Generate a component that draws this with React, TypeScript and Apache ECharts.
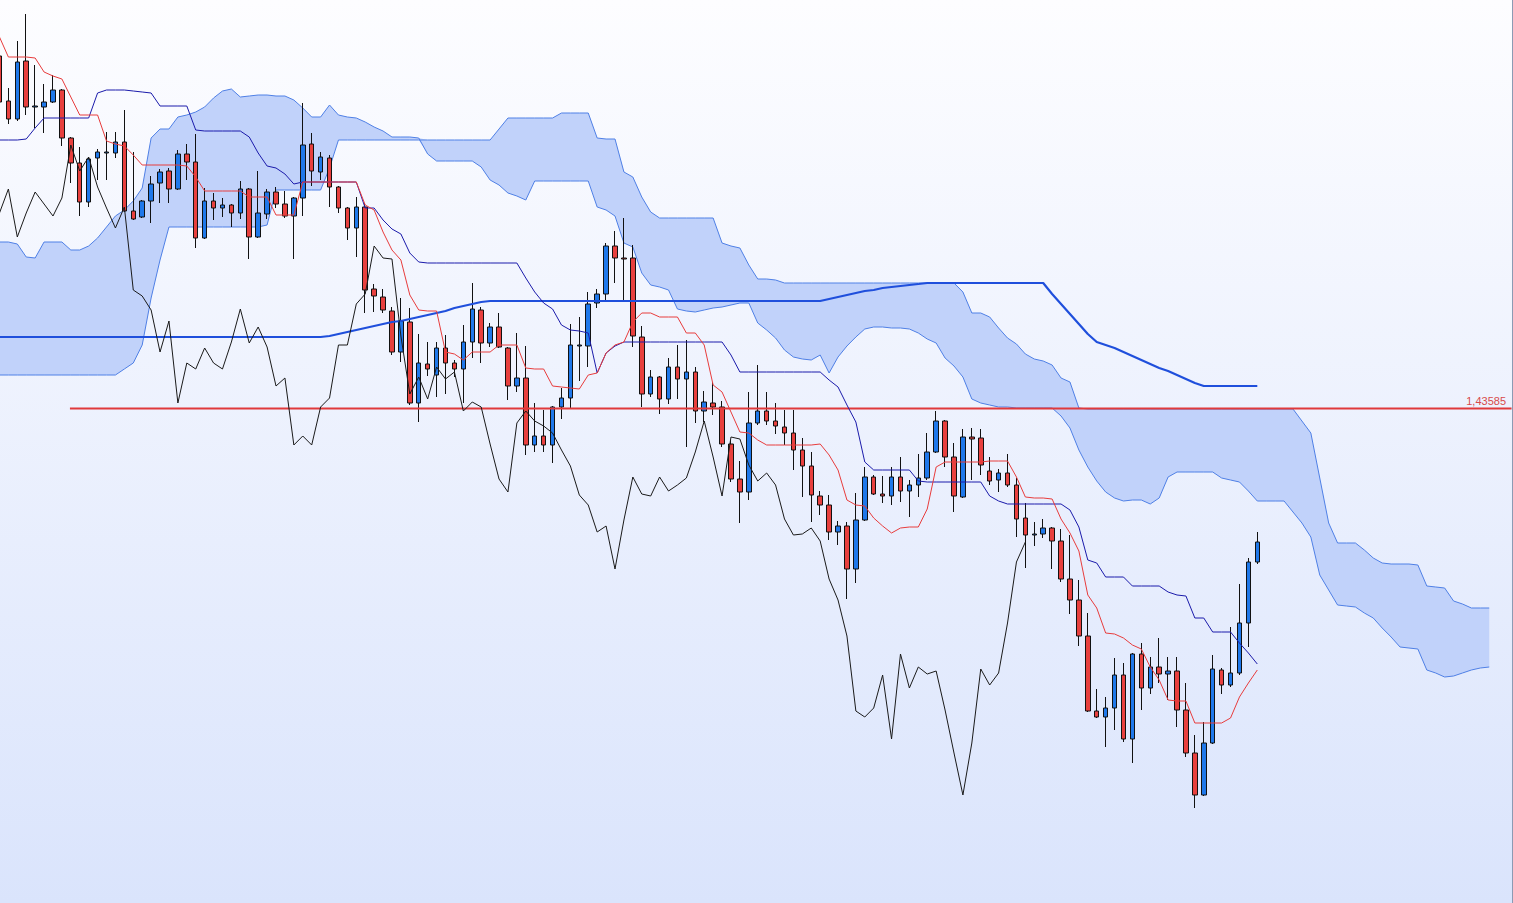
import { useEffect, useRef } from 'react'
import * as echarts from 'echarts'

// daily bars, oldest first
const opens = [
  1.4711, 1.4666, 1.4648, 1.4706, 1.466, 1.466, 1.4665, 1.4677, 1.4629, 1.4604,
  1.4565, 1.4609, 1.4614, 1.4614, 1.4625, 1.4556, 1.455, 1.4566, 1.4584, 1.4596,
  1.4578, 1.4613, 1.4605, 1.4529, 1.4566, 1.4559, 1.4562, 1.4554, 1.4578, 1.453,
  1.4553, 1.4575, 1.4563, 1.4551, 1.4569, 1.4623, 1.4595, 1.4609, 1.458, 1.4559,
  1.4539, 1.456, 1.4478, 1.447, 1.4456, 1.4415, 1.4445, 1.4364, 1.4403, 1.4392,
  1.4419, 1.4404, 1.4398, 1.4425, 1.4457, 1.4424, 1.444, 1.4419, 1.4381, 1.4389,
  1.4322, 1.4331, 1.4322, 1.436, 1.4369, 1.4421, 1.4421, 1.4464, 1.4473, 1.4521,
  1.4509, 1.4509, 1.443, 1.4373, 1.439, 1.4368, 1.44, 1.4388, 1.4395, 1.4356,
  1.4364, 1.436, 1.4323, 1.4288, 1.4275, 1.4344, 1.4356, 1.4346, 1.434, 1.4334,
  1.4317, 1.4301, 1.4271, 1.4262, 1.4235, 1.4241, 1.4198, 1.4247, 1.429, 1.4273,
  1.4271, 1.429, 1.4276, 1.4282, 1.4289, 1.4315, 1.4346, 1.431, 1.427, 1.433,
  1.4329, 1.4296, 1.4287, 1.4294, 1.4282, 1.4249, 1.4232, 1.4233, 1.4239, 1.4226,
  1.4188, 1.4167, 1.4131, 1.4056, 1.405, 1.4059, 1.4092, 1.4028, 1.4113, 1.4079,
  1.41, 1.4093, 1.4096, 1.4057, 1.4014, 1.3972, 1.4024, 1.4097, 1.4082, 1.4094,
  1.4144, 1.4205,
]

const closes = [
  1.4665, 1.4648, 1.4705, 1.466, 1.4661, 1.4665, 1.4677, 1.4629, 1.4604, 1.4565,
  1.4608, 1.4615, 1.4615, 1.4625, 1.4556, 1.4548, 1.4566, 1.4583, 1.4595, 1.4578,
  1.4613, 1.4605, 1.4529, 1.4566, 1.4559, 1.4562, 1.4554, 1.4578, 1.453, 1.4554,
  1.4575, 1.4563, 1.4551, 1.4569, 1.4622, 1.4596, 1.461, 1.458, 1.4559, 1.4539,
  1.456, 1.4477, 1.4471, 1.4457, 1.4415, 1.4446, 1.4364, 1.4404, 1.4398, 1.4419,
  1.4404, 1.4398, 1.4425, 1.4458, 1.4424, 1.444, 1.442, 1.4381, 1.4389, 1.4322,
  1.4331, 1.4322, 1.436, 1.4369, 1.4422, 1.4422, 1.4463, 1.4473, 1.4521, 1.4509,
  1.4508, 1.4431, 1.4373, 1.439, 1.4368, 1.44, 1.4388, 1.4395, 1.4356, 1.4365,
  1.436, 1.4323, 1.4288, 1.4275, 1.4344, 1.4356, 1.4346, 1.4341, 1.4334, 1.4317,
  1.4301, 1.4272, 1.4262, 1.4235, 1.4241, 1.4198, 1.4247, 1.429, 1.4273, 1.4271,
  1.429, 1.4276, 1.4282, 1.4289, 1.4315, 1.4346, 1.431, 1.4271, 1.433, 1.4328,
  1.4302, 1.4286, 1.4294, 1.4282, 1.4248, 1.4232, 1.4233, 1.4239, 1.4226, 1.4188,
  1.4167, 1.4131, 1.4056, 1.405, 1.4059, 1.4092, 1.4028, 1.4113, 1.4079, 1.41,
  1.4093, 1.4096, 1.4057, 1.4014, 1.3972, 1.4024, 1.4098, 1.4082, 1.4094, 1.4144,
  1.4205, 1.4225,
]

const highs = [
  1.4717, 1.4679, 1.4726, 1.4753, 1.4702, 1.4683, 1.4692, 1.4678, 1.463, 1.462,
  1.461, 1.4618, 1.4635, 1.4635, 1.4657, 1.4615, 1.4567, 1.4591, 1.4598, 1.4599,
  1.4617, 1.4623, 1.4633, 1.4579, 1.4574, 1.4569, 1.4563, 1.4586, 1.4579, 1.4596,
  1.4578, 1.458, 1.4576, 1.457, 1.4664, 1.4634, 1.4615, 1.4612, 1.4581, 1.456,
  1.457, 1.4564, 1.4483, 1.4478, 1.446, 1.4469, 1.4459, 1.4433, 1.4425, 1.4425,
  1.4432, 1.4407, 1.4442, 1.4484, 1.446, 1.4444, 1.4454, 1.442, 1.4434, 1.4421,
  1.4364, 1.4357, 1.4361, 1.4379, 1.4443, 1.445, 1.4475, 1.4478, 1.4524, 1.4536,
  1.4549, 1.4522, 1.4441, 1.4397, 1.4391, 1.4409, 1.4422, 1.4427, 1.44, 1.4376,
  1.4385, 1.4366, 1.4327, 1.4306, 1.4375, 1.4402, 1.4375, 1.4364, 1.4357, 1.4357,
  1.4329, 1.4315, 1.4276, 1.4272, 1.4246, 1.4245, 1.4274, 1.43, 1.4292, 1.4291,
  1.43, 1.431, 1.4287, 1.4313, 1.4334, 1.4356, 1.4347, 1.4324, 1.4338, 1.4339,
  1.4338, 1.431, 1.4298, 1.4313, 1.4289, 1.4264, 1.4245, 1.4248, 1.424, 1.4238,
  1.4232, 1.4187, 1.4154, 1.4078, 1.407, 1.4109, 1.4104, 1.4114, 1.4124, 1.411,
  1.4129, 1.411, 1.411, 1.4084, 1.4032, 1.4045, 1.4112, 1.4099, 1.414, 1.4183,
  1.4209, 1.4235,
]

const lows = [
  1.4662, 1.4643, 1.4646, 1.4652, 1.4639, 1.4634, 1.4664, 1.4621, 1.4584, 1.4551,
  1.456, 1.4587, 1.4587, 1.4609, 1.4555, 1.4547, 1.4549, 1.4544, 1.4564, 1.4564,
  1.4577, 1.4587, 1.4519, 1.4528, 1.4547, 1.455, 1.454, 1.4548, 1.4508, 1.4529,
  1.4548, 1.4559, 1.4549, 1.4508, 1.4551, 1.4581, 1.4587, 1.456, 1.4554, 1.4527,
  1.451, 1.4454, 1.4455, 1.4454, 1.4412, 1.4405, 1.4362, 1.4345, 1.4391, 1.437,
  1.4373, 1.439, 1.4364, 1.4409, 1.4404, 1.442, 1.4419, 1.4367, 1.4375, 1.4312,
  1.4315, 1.4315, 1.4304, 1.4348, 1.4359, 1.4386, 1.44, 1.4459, 1.4467, 1.4484,
  1.4467, 1.442, 1.436, 1.437, 1.4353, 1.4363, 1.4368, 1.432, 1.4344, 1.4345,
  1.4352, 1.432, 1.4285, 1.4244, 1.4267, 1.4342, 1.4342, 1.4333, 1.4322, 1.4297,
  1.427, 1.4245, 1.4252, 1.4227, 1.4222, 1.4168, 1.4184, 1.4246, 1.4272, 1.4264,
  1.4262, 1.4265, 1.425, 1.427, 1.4287, 1.4314, 1.43, 1.4255, 1.4269, 1.4287,
  1.4292, 1.4282, 1.4275, 1.428, 1.423, 1.4199, 1.4221, 1.4229, 1.4198, 1.4185,
  1.4153, 1.4121, 1.4055, 1.4049, 1.402, 1.4037, 1.4025, 1.4004, 1.4057, 1.4073,
  1.4084, 1.4067, 1.404, 1.401, 1.3959, 1.3971, 1.4023, 1.4073, 1.408, 1.4092,
  1.412, 1.4203,
]

// Ichimoku lines as drawn on the chart
const tenkan = [
  1.473, 1.471, 1.471, 1.471, 1.4709, 1.4695, 1.4691, 1.4688, 1.467, 1.4652,
  1.4652, 1.4652, 1.4626, 1.4623, 1.4621, 1.4612, 1.4602, 1.4602, 1.4602, 1.4602,
  1.4602, 1.4601, 1.459, 1.4576, 1.4576, 1.4576, 1.4576, 1.4576, 1.457, 1.457,
  1.457, 1.4552, 1.4552, 1.4552, 1.4585, 1.4585, 1.4585, 1.4585, 1.4585, 1.4585,
  1.4585, 1.4562, 1.4557, 1.4535, 1.4517, 1.4507, 1.4472, 1.4457, 1.4456, 1.4456,
  1.4415, 1.4413, 1.4407, 1.4415, 1.4415, 1.4415, 1.4422, 1.4422, 1.4422, 1.4399,
  1.4398, 1.4398, 1.4381, 1.438, 1.4379, 1.4378, 1.4392, 1.4394, 1.4414, 1.4422,
  1.4425, 1.4445, 1.4454, 1.4454, 1.445, 1.445, 1.445, 1.4434, 1.4434, 1.4422,
  1.4382, 1.4375, 1.4355, 1.4335, 1.4334, 1.4327, 1.4322, 1.4322, 1.4322, 1.4322,
  1.4322, 1.4322, 1.4323, 1.4312, 1.4297, 1.4267, 1.4262, 1.4261, 1.4249, 1.4241,
  1.4234, 1.4239, 1.424, 1.424, 1.4258, 1.43, 1.4305, 1.4305, 1.4305, 1.4305,
  1.4305, 1.4306, 1.4306, 1.4306, 1.429, 1.427, 1.4269, 1.4269, 1.4268, 1.4248,
  1.4234, 1.4216, 1.4172, 1.4159, 1.4134, 1.4133, 1.4129, 1.4122, 1.4118, 1.41,
  1.4087, 1.4067, 1.4066, 1.4066, 1.4044, 1.4044, 1.4044, 1.4044, 1.4049, 1.407,
  1.4084, 1.4097,
]

const kijun = [
  1.4627, 1.4627, 1.4627, 1.4628, 1.4639, 1.4649, 1.4649, 1.4649, 1.4649, 1.4649,
  1.4649, 1.4674, 1.4677, 1.4677, 1.4677, 1.4676, 1.4675, 1.4674, 1.4661, 1.4661,
  1.4661, 1.4661, 1.4637, 1.4636, 1.4636, 1.4636, 1.4636, 1.4636, 1.463, 1.4614,
  1.4601, 1.4599, 1.4593, 1.4583, 1.4585, 1.4585, 1.4585, 1.4585, 1.4585, 1.4585,
  1.4585, 1.4559, 1.4559, 1.4547, 1.4538, 1.4533, 1.4514, 1.4505, 1.4504, 1.4504,
  1.4504, 1.4504, 1.4504, 1.4504, 1.4504, 1.4504, 1.4504, 1.4504, 1.4504, 1.4489,
  1.4475, 1.4464, 1.4458, 1.4442, 1.4437, 1.4436, 1.4434, 1.4394, 1.4414, 1.4421,
  1.4425, 1.4425, 1.4425, 1.4425, 1.4425, 1.4425, 1.4425, 1.4425, 1.4425, 1.4425,
  1.4425, 1.4425, 1.4412, 1.4395, 1.4395, 1.4395, 1.4395, 1.4395, 1.4395, 1.4395,
  1.4395, 1.4395, 1.4395, 1.4387, 1.438, 1.4362, 1.4345, 1.4305, 1.4297, 1.4297,
  1.4297, 1.4297, 1.4297, 1.4286, 1.4285, 1.4285, 1.4285, 1.4285, 1.4285, 1.4285,
  1.4285, 1.4271, 1.4266, 1.4263, 1.4263, 1.4263, 1.4263, 1.4263, 1.4263, 1.4263,
  1.4257, 1.424, 1.4207, 1.4204, 1.419, 1.419, 1.419, 1.4181, 1.4181, 1.4181,
  1.4181, 1.4175, 1.4172, 1.4171, 1.4149, 1.4149, 1.4135, 1.4135, 1.4135, 1.4124,
  1.4114, 1.4103,
]

// cloud spans, already shifted 26 bars forward (168 slots)
const spanA = [
  1.4525, 1.4525, 1.4523, 1.451, 1.4509, 1.4525, 1.4525, 1.4525, 1.4517, 1.4517,
  1.4521, 1.4529, 1.454, 1.4551, 1.4557, 1.4566, 1.4579, 1.4629, 1.4638, 1.4638,
  1.465, 1.4652, 1.4655, 1.466, 1.4669, 1.4676, 1.4678, 1.467, 1.4671, 1.4672,
  1.4672, 1.4671, 1.4671, 1.4667, 1.4659, 1.465, 1.465, 1.4662, 1.4652, 1.465,
  1.4649, 1.4645, 1.464, 1.4636, 1.463, 1.463, 1.463, 1.4629, 1.4613, 1.4606,
  1.4606, 1.4606, 1.4606, 1.4606, 1.46, 1.4587, 1.4582, 1.4574, 1.4571, 1.4567,
  1.4586, 1.4586, 1.4586, 1.4586, 1.4586, 1.4586, 1.4586, 1.456, 1.4557, 1.4551,
  1.4524, 1.452, 1.4494, 1.4482, 1.448, 1.4477, 1.4458, 1.4456, 1.4455, 1.4457,
  1.4459, 1.446, 1.4462, 1.4464, 1.4464, 1.4444, 1.4437, 1.4429, 1.4417, 1.441,
  1.4408, 1.4407, 1.4412, 1.4394, 1.441, 1.4421, 1.443, 1.4438, 1.444, 1.444,
  1.4439, 1.4439, 1.4438, 1.4434, 1.4428, 1.4424, 1.4409, 1.4401, 1.439, 1.4368,
  1.4364, 1.4362, 1.436, 1.436, 1.4359, 1.4359, 1.4359, 1.4359, 1.4359, 1.4351,
  1.4339, 1.4317, 1.43, 1.4286, 1.4275, 1.4269, 1.4266, 1.4267, 1.4267, 1.4263,
  1.4269, 1.429, 1.4295, 1.4295, 1.4295, 1.4295, 1.4295, 1.4289, 1.4287, 1.4285,
  1.4276, 1.4266, 1.4266, 1.4266, 1.4266, 1.4255, 1.4244, 1.423, 1.4192, 1.4177,
  1.4162, 1.4161, 1.416, 1.4154, 1.4149, 1.4139, 1.413, 1.412, 1.4119, 1.4118,
  1.4097, 1.4094, 1.409, 1.4091, 1.4094, 1.4097, 1.4099, 1.41,
]

const spanB = [
  1.4392, 1.4392, 1.4392, 1.4392, 1.4392, 1.4392, 1.4392, 1.4392, 1.4392, 1.4392,
  1.4392, 1.4392, 1.4392, 1.4392, 1.4398, 1.4404, 1.4422, 1.4469, 1.4507, 1.454,
  1.454, 1.454, 1.454, 1.454, 1.454, 1.454, 1.454, 1.454, 1.454, 1.454,
  1.4542, 1.4577, 1.4577, 1.4577, 1.4577, 1.4577, 1.4577, 1.4599, 1.4627, 1.4627,
  1.4627, 1.4627, 1.4627, 1.4627, 1.4627, 1.4627, 1.4627, 1.4627, 1.4627, 1.4627,
  1.4627, 1.4627, 1.4627, 1.4627, 1.4627, 1.4627, 1.4638, 1.4649, 1.4649, 1.4649,
  1.4649, 1.4649, 1.4649, 1.4654, 1.4654, 1.4654, 1.4654, 1.4629, 1.4628, 1.4628,
  1.4595, 1.459, 1.457, 1.4555, 1.4549, 1.4549, 1.4549, 1.4549, 1.4549, 1.4549,
  1.4549, 1.4524, 1.4521, 1.4519, 1.4502, 1.4488, 1.4488, 1.4487, 1.4484, 1.4484,
  1.4484, 1.4484, 1.4484, 1.4484, 1.4484, 1.4484, 1.4484, 1.4484, 1.4484, 1.4484,
  1.4484, 1.4484, 1.4484, 1.4484, 1.4484, 1.4484, 1.4484, 1.4484, 1.4475, 1.4454,
  1.4454, 1.445, 1.4439, 1.4429, 1.4423, 1.4413, 1.4408, 1.4406, 1.4402, 1.4389,
  1.4385, 1.4359, 1.4358, 1.4358, 1.4358, 1.4358, 1.4358, 1.4358, 1.4358, 1.4358,
  1.4358, 1.4358, 1.4358, 1.4358, 1.4358, 1.4358, 1.4358, 1.4358, 1.4358, 1.4358,
  1.4358, 1.4358, 1.4358, 1.4358, 1.4358, 1.4358, 1.4346, 1.4334, 1.4289, 1.4244,
  1.4224, 1.4224, 1.4224, 1.4217, 1.4209, 1.4204, 1.4203, 1.4203, 1.4203, 1.4202,
  1.4181, 1.418, 1.4179, 1.4166, 1.4163, 1.4159, 1.4159, 1.4159,
]

// long moving average
const movingAvg = [
  1.443, 1.443, 1.443, 1.443, 1.443, 1.443, 1.443, 1.443, 1.443, 1.443,
  1.443, 1.443, 1.443, 1.443, 1.443, 1.443, 1.443, 1.443, 1.443, 1.443,
  1.443, 1.443, 1.443, 1.443, 1.443, 1.443, 1.443, 1.443, 1.443, 1.443,
  1.443, 1.443, 1.443, 1.443, 1.443, 1.443, 1.443, 1.4431, 1.4433, 1.4435,
  1.4437, 1.4439, 1.4441, 1.4443, 1.4445, 1.4446, 1.4448, 1.445, 1.4452, 1.4454,
  1.4456, 1.4459, 1.4461, 1.4463, 1.4465, 1.4466, 1.4466, 1.4466, 1.4466, 1.4466,
  1.4466, 1.4466, 1.4466, 1.4466, 1.4466, 1.4466, 1.4466, 1.4466, 1.4466, 1.4466,
  1.4466, 1.4466, 1.4466, 1.4466, 1.4466, 1.4466, 1.4466, 1.4466, 1.4466, 1.4466,
  1.4466, 1.4466, 1.4466, 1.4466, 1.4466, 1.4466, 1.4466, 1.4466, 1.4466, 1.4466,
  1.4466, 1.4466, 1.4466, 1.4468, 1.447, 1.4472, 1.4474, 1.4476, 1.4477, 1.4479,
  1.448, 1.4481, 1.4482, 1.4483, 1.4484, 1.4484, 1.4484, 1.4484, 1.4484, 1.4484,
  1.4484, 1.4484, 1.4484, 1.4484, 1.4484, 1.4484, 1.4484, 1.4484, 1.4473, 1.4463,
  1.4453, 1.4443, 1.4433, 1.4425, 1.4422, 1.4419, 1.4415, 1.4411, 1.4407, 1.4403,
  1.4399, 1.4396, 1.4392, 1.4388, 1.4384, 1.4381, 1.4381, 1.4381, 1.4381, 1.4381,
  1.4381, 1.4381,
]

const levelPrice = 1.43585
const levelLabel = '1,43585'
const levelFromBar = 7.9
const chikouShift = 26
const barSlots = 170

export default function App() {
  const chartRef = useRef<HTMLDivElement>(null)

  useEffect(() => {
    if (!chartRef.current) return
    const chart = echarts.init(chartRef.current, null, { renderer: 'svg' })

    const categories = Array.from({ length: barSlots }, (_, i) => String(i))
    const candles = opens.map((o, i) => [o, closes[i], lows[i], highs[i]])
    const chikou = closes.slice(chikouShift)
    const cloudFloor = spanA.map((a, i) => Math.min(a, spanB[i]))
    const cloudDepth = spanA.map((a, i) => Math.abs(a - spanB[i]))

    const line = (data: any[], color: string, width: number, z: number) => ({
      type: 'line',
      data,
      symbol: 'none',
      showSymbol: false,
      silent: true,
      z,
      lineStyle: { color, width },
    })

    chart.setOption({
      animation: false,
      grid: { left: 0, right: 0.45, top: 0, bottom: 0 },
      xAxis: [
        { type: 'category', data: categories, boundaryGap: true, show: false },
        { type: 'value', min: -0.5, max: barSlots - 0.5, show: false },
      ],
      yAxis: { type: 'value', min: 1.3864, max: 1.4767, show: false, splitLine: { show: false } },
      series: [
        {
          type: 'line',
          data: cloudFloor,
          stack: 'cloud',
          symbol: 'none',
          silent: true,
          z: 1,
          lineStyle: { opacity: 0 },
        },
        {
          type: 'line',
          data: cloudDepth,
          stack: 'cloud',
          symbol: 'none',
          silent: true,
          z: 1,
          lineStyle: { opacity: 0 },
          areaStyle: { color: '#c1d2fa', opacity: 1 },
        },
        line(spanA, '#4f80e6', 1, 1),
        line(spanB, '#4f80e6', 1, 1),
        {
          type: 'candlestick',
          data: candles,
          barWidth: 5,
          z: 2,
          silent: true,
          itemStyle: {
            color: '#1f78ea',
            color0: '#e8403e',
            borderColor: '#111111',
            borderColor0: '#111111',
            borderWidth: 1,
          },
        },
        line(movingAvg, '#1f4fdc', 2.2, 3),
        {
          ...line(
            [
              [levelFromBar, levelPrice],
              [barSlots - 0.5, levelPrice],
            ],
            '#e0393b',
            2,
            3
          ),
          xAxisIndex: 1,
        },
        line(kijun, '#1b1bab', 1, 4),
        line(tenkan, '#e83c3c', 1, 4),
        line(chikou, '#1a1a1a', 1, 4),
      ],
      graphic: [
        {
          type: 'text',
          right: 6,
          top: 395,
          silent: true,
          style: {
            text: levelLabel,
            fill: '#d84a4a',
            font: '11px "Liberation Sans", Arial, sans-serif',
          },
        },
      ],
    })

    return () => chart.dispose()
  }, [])

  return (
    <div
      style={{
        position: 'fixed',
        left: 0,
        top: 0,
        width: 1512,
        height: 903,
        overflow: 'hidden',
        borderRight: '1px solid #8c9ab3',
        background: 'linear-gradient(#fdfdff, #dae4fc)',
      }}
    >
      <div
        ref={chartRef}
        style={{ position: 'absolute', left: -4.68, top: 0, width: 1516.7, height: 903 }}
      />
    </div>
  )
}
